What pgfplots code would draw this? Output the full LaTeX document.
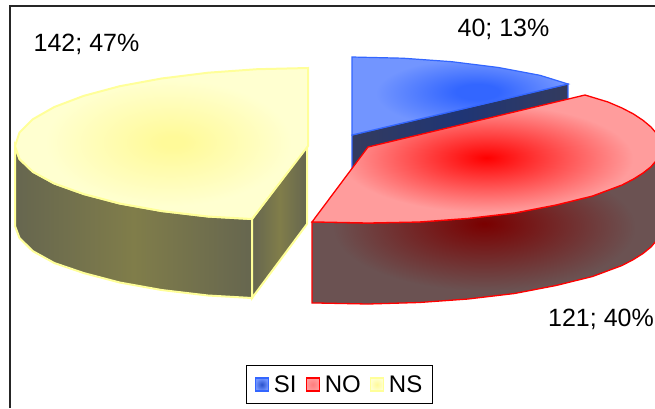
\documentclass[border=0pt]{standalone}
\usepackage{fontspec}
\setmainfont{Liberation Sans}
\usepackage{pgfplots}
\pgfplotsset{compat=1.18}
\definecolor{yline}{HTML}{FFFF99}
\definecolor{rline}{HTML}{FF0000}
\definecolor{bline}{HTML}{3366FF}
\definecolor{yin}{HTML}{FFFA99}\definecolor{yout}{HTML}{FFFFD0}
\definecolor{rin}{HTML}{FF0000}\definecolor{rout}{HTML}{FF9C9C}
\definecolor{bin}{HTML}{3366FF}\definecolor{bout}{HTML}{7295FF}
\definecolor{rwin}{HTML}{7A0000}\definecolor{rwout}{HTML}{6B5252}
\definecolor{ywe}{HTML}{66664F}\definecolor{ywm}{HTML}{807D4A}
\definecolor{bwe}{HTML}{333B5E}\definecolor{bwm}{HTML}{1F3575}
\pgfdeclareradialshading{ytop}{\pgfpoint{2bp}{0.5bp}}{color(0bp)=(yin); color(2bp)=(yin); color(21bp)=(yout); color(50bp)=(yout)}
\pgfdeclareradialshading{rtop}{\pgfpoint{0bp}{0.5bp}}{color(0bp)=(rin); color(21bp)=(rout); color(50bp)=(rout)}
\pgfdeclareradialshading{btop}{\pgfpoint{4.5bp}{3bp}}{color(0bp)=(bin); color(5bp)=(bin); color(22bp)=(bout); color(50bp)=(bout)}
\pgfdeclareradialshading{rwall}{\pgfpoint{0bp}{3bp}}{color(0bp)=(rwin); color(22bp)=(rwout); color(50bp)=(rwout)}
\begin{document}
\begin{tikzpicture}
\begin{axis}[
  scale only axis, width=655pt, height=408pt,
  xmin=0, xmax=655, ymin=0, ymax=408, y dir=reverse,
  hide axis, clip=true,
  legend columns=3,
  legend style={at={(axis cs:339.5,384.5)}, anchor=center, draw=black, line width=0.9pt,
    font=\fontsize{24}{28}\selectfont, inner xsep=8pt, inner ysep=7.5pt,
    /tikz/column 1/.style={column sep=3pt}, /tikz/column 3/.style={column sep=3pt}, /tikz/column 5/.style={column sep=3pt},
    /tikz/column 2/.style={column sep=7pt}, /tikz/column 4/.style={column sep=7pt}},
]
% frame
\addplot[forget plot, color=black!85, line width=1.3pt] coordinates {(10,408)(10,6)(655,6)};
% blue wedge
\addplot[forget plot, draw=bline, line width=1.2pt, shade, left color=bwe, right color=bwe, middle color=bwm]
  coordinates {(352,135)(568,84)(568,160)(352,212)} -- cycle;
\addplot[draw=bline, line width=1.2pt, shade, shading=btop,
  legend image code/.code={\draw[draw=bline, line width=1.2pt, inner color=bin!80!black, outer color=bout] (0pt,-6.5pt) rectangle (13pt,6.5pt);}]
  coordinates {(352,57)(403,58.2)(452,61.7)(498.5,67.5)(540,75.3)(568,84)(352,135)} -- cycle;
% red wedge
\addplot[forget plot, draw=rline, line width=1.3pt, shade, shading=rwall]
  coordinates {(312,222)(312,303)(317,303)(368,304)(419,302.5)(468,299)(514.5,293.5)(556,285.5)(592.5,276.5)(622,265.5)(633.5,259.5)(643,253.5)(651,247)(656.5,240.5)(656.5,160.2)(651,166.7)(643,173)(633.5,179)(622,185)(592.5,196)(556,205)(514.5,213)(468,218.4)(419,222)(368,223)(317,222)} -- cycle;
\addplot[draw=rline, line width=1.3pt, shade, shading=rtop,
  legend image code/.code={\draw[draw=rline, line width=1.2pt, inner color=rout!80!rin, outer color=rout] (0pt,-6.5pt) rectangle (13pt,6.5pt);}]
  coordinates {(368,147)(585,95)(608,102)(622,108)(633.5,114)(643,120.3)(651,127)(656.5,133.5)(661,147)(656.5,160.2)(651,166.7)(643,173)(633.5,179)(622,185)(592.5,196)(556,205)(514.5,213)(468,218.4)(419,222)(368,223)(317,222)(312,222)} -- cycle;
% yellow wedge
\addplot[forget plot, draw=yline, line width=2pt, shade, left color=ywe, right color=ywe, middle color=ywm]
  coordinates {(15,146)(15,226)(19.5,238)(32.7,251)(54.3,263)(83.6,273)(119.7,282.5)(161.5,290)(208,295.5)(252,298)(252,219)(208,216.5)(161.5,211)(119.7,203.5)(83.6,194)(54.3,183.5)(32.7,171.7)(19.5,159)} -- cycle;
\addplot[forget plot, draw=yline, line width=2pt, shade, left color=ywe, right color=ywe, middle color=ywm]
  coordinates {(252,219)(307,146)(307,224)(252,298)} -- cycle;
\addplot[draw=yline, line width=2pt, shade, shading=ytop,
  legend image code/.code={\draw[draw=yline, line width=1.2pt, inner color=yin, outer color=yout] (0pt,-6.5pt) rectangle (13pt,6.5pt);}]
  coordinates {(308,68)(257,69.2)(208,72.7)(161.5,78.5)(119.7,86.2)(83.6,95.9)(54.3,107)(32.7,119.3)(19.5,132.5)(15,146)(19.5,159)(32.7,171.7)(54.3,183.5)(83.6,194)(119.7,203.5)(161.5,211)(208,216.5)(252,219)(308,146)} -- cycle;
\legend{SI,NO,NS}
% labels
\node[font=\fontsize{25}{30}\selectfont, anchor=center] at (axis cs:86.5,44) {142; 47\%};
\node[font=\fontsize{25}{30}\selectfont, anchor=center] at (axis cs:503.5,29) {40; 13\%};
\node[font=\fontsize{25}{30}\selectfont, anchor=center] at (axis cs:601,319) {121; 40\%};
\end{axis}
\path (current axis.south west) (current axis.north east);
\end{tikzpicture}
\end{document}
